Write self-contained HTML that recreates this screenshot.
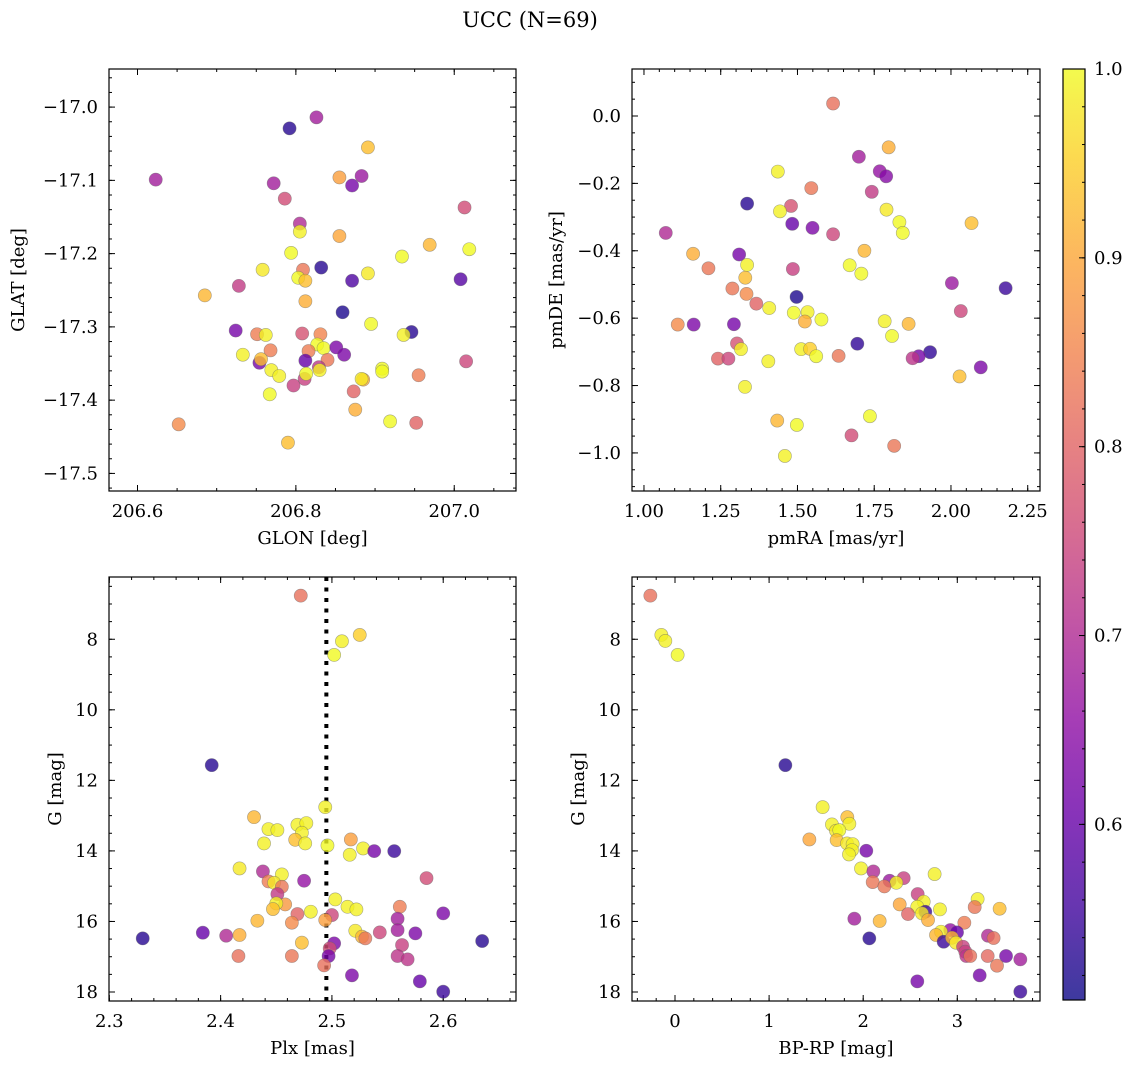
<!DOCTYPE html>
<html><head><meta charset="utf-8"><style>
html,body{margin:0;padding:0;background:#fff;}
svg{display:block;font-family:"DejaVu Serif","Liberation Serif",serif;}
</style></head><body>
<svg id="fig" width="1136" height="1068" viewBox="0 0 1136 1068" xmlns="http://www.w3.org/2000/svg">
<text x="530" y="27" font-size="21" text-anchor="middle">UCC (N=69)</text>
</svg>
<script>
// ---- Panel 1: GLON vs GLAT ----
const glon = [206.623,206.792,206.826,206.891,206.855,206.871,206.883,206.772,206.786,207.013,206.805,206.805,206.855,206.969,207.019,206.794,206.934,206.758,206.809,206.832,206.803,206.812,206.871,206.891,207.008,206.728,206.685,206.812,206.859,206.895,206.724,206.751,206.762,206.808,206.831,206.946,206.936,206.827,206.835,206.851,206.861,206.768,206.816,206.733,206.754,206.756,206.812,206.840,206.829,206.830,206.769,206.779,206.811,206.813,206.909,206.909,206.885,206.883,206.955,207.015,206.797,206.873,206.767,206.875,206.919,206.952,206.652,206.790];
const glat = [-17.099,-17.029,-17.014,-17.055,-17.096,-17.107,-17.094,-17.104,-17.125,-17.137,-17.159,-17.170,-17.176,-17.188,-17.194,-17.199,-17.204,-17.222,-17.222,-17.219,-17.233,-17.237,-17.237,-17.227,-17.235,-17.244,-17.257,-17.265,-17.280,-17.296,-17.305,-17.310,-17.311,-17.309,-17.310,-17.307,-17.311,-17.324,-17.329,-17.328,-17.338,-17.332,-17.333,-17.338,-17.349,-17.344,-17.346,-17.345,-17.355,-17.359,-17.359,-17.367,-17.371,-17.364,-17.357,-17.361,-17.372,-17.371,-17.366,-17.347,-17.380,-17.388,-17.392,-17.413,-17.429,-17.431,-17.433,-17.458];
const prob1 = [0.68,0.53,0.68,0.93,0.89,0.62,0.67,0.68,0.76,0.76,0.70,0.99,0.90,0.92,1.0,1.0,1.0,0.98,0.83,0.53,1.0,0.93,0.57,0.98,0.58,0.73,0.92,0.91,0.52,1.0,0.62,0.84,0.99,0.77,0.85,0.53,0.99,1.0,1.0,0.63,0.63,0.84,0.84,0.99,0.62,0.93,0.60,0.83,0.72,0.99,0.99,0.99,0.74,1.0,1.0,1.0,0.91,0.98,0.84,0.75,0.74,0.80,1.0,0.91,1.0,0.80,0.86,0.93];
// ---- Panel 2: pmRA vs pmDE ----
const pmra = [1.616,1.797,1.700,1.768,1.789,1.436,1.545,1.742,1.336,1.479,1.443,1.790,1.832,2.067,1.483,1.549,1.071,1.843,1.616,1.718,1.160,1.310,1.670,1.336,1.210,1.485,1.708,1.330,1.288,1.334,2.003,2.178,1.497,1.366,1.408,2.032,1.488,1.533,1.524,1.578,1.784,1.862,1.110,1.162,1.293,1.808,1.303,1.316,1.695,1.512,1.541,1.561,1.634,1.932,1.895,1.875,1.241,1.275,1.405,2.097,2.028,1.329,1.736,1.434,1.498,1.676,1.815,1.459];
const pmde = [0.037,-0.093,-0.121,-0.164,-0.179,-0.165,-0.214,-0.225,-0.260,-0.267,-0.283,-0.278,-0.315,-0.318,-0.320,-0.332,-0.347,-0.347,-0.351,-0.400,-0.409,-0.411,-0.443,-0.442,-0.452,-0.454,-0.468,-0.480,-0.512,-0.528,-0.496,-0.511,-0.537,-0.557,-0.570,-0.579,-0.584,-0.582,-0.610,-0.604,-0.609,-0.617,-0.619,-0.619,-0.618,-0.653,-0.675,-0.692,-0.676,-0.692,-0.691,-0.713,-0.712,-0.701,-0.713,-0.719,-0.720,-0.720,-0.728,-0.746,-0.773,-0.804,-0.891,-0.904,-0.917,-0.948,-0.979,-1.009];
const prob2 = [0.82,0.91,0.68,0.66,0.64,0.99,0.83,0.73,0.53,0.77,0.99,0.98,1.0,0.93,0.60,0.63,0.70,1.0,0.75,0.92,0.91,0.62,1.0,0.99,0.83,0.74,1.0,0.93,0.83,0.86,0.67,0.55,0.52,0.80,0.99,0.75,1.0,0.99,0.91,1.0,0.99,0.92,0.86,0.63,0.62,1.0,0.77,0.99,0.54,0.99,0.95,1.0,0.83,0.54,0.62,0.72,0.80,0.75,0.99,0.63,0.93,0.99,1.0,0.92,1.0,0.76,0.83,0.99];
// ---- Panel 3: Plx vs G ----
const plx = [2.472,2.525,2.509,2.502,2.392,2.494,2.430,2.443,2.451,2.469,2.477,2.473,2.467,2.476,2.439,2.496,2.517,2.516,2.528,2.538,2.556,2.417,2.438,2.455,2.475,2.585,2.443,2.448,2.455,2.451,2.503,2.514,2.522,2.561,2.600,2.458,2.450,2.447,2.469,2.481,2.500,2.494,2.559,2.433,2.464,2.559,2.575,2.543,2.521,2.527,2.530,2.384,2.405,2.417,2.330,2.635,2.473,2.502,2.563,2.498,2.497,2.559,2.568,2.416,2.464,2.493,2.518,2.579,2.600];
const gmag3 = [6.763,7.877,8.057,8.444,11.569,12.759,13.043,13.382,13.411,13.260,13.212,13.486,13.685,13.788,13.788,13.845,13.675,14.110,13.930,14.006,14.006,14.497,14.582,14.667,14.846,14.771,14.865,14.903,15.016,15.224,15.375,15.583,15.658,15.583,15.771,15.517,15.488,15.649,15.790,15.724,15.819,15.960,15.922,15.979,16.036,16.244,16.338,16.310,16.263,16.432,16.480,16.319,16.404,16.385,16.480,16.555,16.602,16.621,16.669,16.763,16.980,16.980,17.075,16.980,16.980,17.245,17.528,17.698,17.991];
const prob3 = [0.82,0.95,0.99,1.0,0.53,0.99,0.92,0.99,0.99,0.99,0.99,0.99,0.93,0.99,0.99,1.0,0.89,0.99,0.99,0.62,0.55,0.98,0.70,0.99,0.66,0.76,0.84,0.98,0.83,0.73,0.99,0.99,0.99,0.84,0.63,0.88,0.99,0.93,0.80,0.99,0.75,0.89,0.68,0.92,0.86,0.68,0.63,0.75,0.98,0.92,0.83,0.60,0.70,0.91,0.53,0.53,0.93,0.63,0.74,0.76,0.62,0.72,0.72,0.82,0.83,0.82,0.63,0.60,0.55];
const plxLine = [2.495];
// ---- Panel 4: BP-RP vs G ----
const bprp = [-0.262,-0.145,-0.103,0.028,1.173,1.569,1.831,1.668,1.853,1.711,1.746,1.428,1.718,1.828,1.888,1.881,2.033,1.849,1.977,2.108,2.759,2.430,2.281,2.352,2.101,2.225,2.579,2.643,3.216,3.185,3.450,2.388,2.575,2.816,2.660,2.476,2.625,2.689,1.906,2.175,3.075,2.926,2.997,2.827,2.774,2.855,2.944,2.986,3.326,3.386,2.065,3.061,3.085,3.096,3.138,3.323,3.518,3.670,3.422,3.238,2.575,3.670];
const gmag4 = [6.763,7.877,8.047,8.444,11.569,12.759,13.043,13.250,13.231,13.430,13.411,13.675,13.694,13.788,13.807,13.977,13.996,14.100,14.497,14.582,14.657,14.771,14.846,14.903,14.884,15.007,15.224,15.441,15.365,15.592,15.639,15.517,15.583,15.658,15.724,15.790,15.771,15.960,15.922,15.988,16.036,16.244,16.310,16.291,16.385,16.574,16.461,16.602,16.404,16.470,16.480,16.716,16.857,16.980,16.980,16.980,16.980,17.075,17.254,17.528,17.698,17.991];
const prob4 = [0.82,0.99,0.99,1.0,0.53,0.99,0.93,0.99,0.99,0.98,1.0,0.90,0.93,0.98,0.99,0.99,0.62,0.99,0.99,0.70,0.99,0.74,0.67,0.99,0.83,0.83,0.74,0.99,0.99,0.83,0.93,0.90,0.99,0.99,0.55,0.80,0.98,0.91,0.68,0.92,0.84,0.66,0.60,0.99,0.92,0.55,0.92,0.98,0.70,0.82,0.53,0.74,0.74,0.72,0.82,0.81,0.62,0.68,0.83,0.62,0.62,0.55];
// colorbar
const cbTicks = [0.6,0.7,0.8,0.9,1.0];

const NS = "http://www.w3.org/2000/svg";
const svg = document.getElementById('fig');
const VMIN = 0.507, VMAX = 1.0;
const plasma = [[13,8,135],[65,4,157],[106,0,168],[143,13,164],[177,42,144],[204,71,120],[225,100,98],[242,132,75],[252,166,54],[252,206,37],[240,249,33]];
function cmap(v){
  let t = (v - VMIN) / (VMAX - VMIN); t = Math.max(0, Math.min(1, t));
  const f = t * 10, i = Math.min(9, Math.floor(f)), u = f - i;
  const a = plasma[i], b = plasma[i+1];
  return 'rgb(' + [0,1,2].map(k => Math.round(a[k] + (b[k]-a[k])*u)).join(',') + ')';
}
function el(tag, attrs, parent){
  const e = document.createElementNS(NS, tag);
  for (const k in attrs) e.setAttribute(k, attrs[k]);
  (parent || svg).appendChild(e);
  return e;
}
function fmt(v, d){ let s = v.toFixed(d); if (Number(s) === 0) s = s.replace('-', ''); return s.replace('-', '\u2212'); }

function panel(cfg){
  const g = el('g', {});
  
  
  const {x0,x1,y0,y1,xd,yd} = cfg;
  const sx = v => x0 + (v - xd[0]) / (xd[1] - xd[0]) * (x1 - x0);
  const sy = v => cfg.yinv ? y0 + (v - yd[0]) / (yd[1] - yd[0]) * (y1 - y0)
                           : y1 - (v - yd[0]) / (yd[1] - yd[0]) * (y1 - y0);
  const tg = el('g', {stroke:'#000','stroke-width':1}, g);
  function ticksAlong(lo, hi, step, len, isX, labels, dec){
    const start = Math.ceil((lo - 1e-9) / step) * step;
    for (let v = start; v <= hi + 1e-9; v += step){
      if (isX){
        const x = sx(v);
        el('line', {x1:x,y1:y1,x2:x,y2:y1-len}, tg);
        el('line', {x1:x,y1:y0,x2:x,y2:y0+len}, tg);
        if (labels){
          const t = el('text', {x:x,y:y1+26,'font-size':18,'text-anchor':'middle',stroke:'none',fill:'#000'}, g);
          t.textContent = fmt(v, dec);
          
          
        }
      } else {
        const y = sy(v);
        el('line', {x1:x0,y1:y,x2:x0+len,y2:y}, tg);
        el('line', {x1:x1,y1:y,x2:x1-len,y2:y}, tg);
        if (labels){
          const t = el('text', {x:x0-11,y:y+6,'font-size':18,'text-anchor':'end',stroke:'none',fill:'#000'}, g);
          t.textContent = fmt(v, dec);
          
          
        }
      }
    }
  }
  ticksAlong(xd[0], xd[1], cfg.xminor, 3, true, false);
  ticksAlong(xd[0], xd[1], cfg.xmajor, 6, true, true, cfg.xdec);
  const ylo = Math.min(yd[0], yd[1]), yhi = Math.max(yd[0], yd[1]);
  ticksAlong(ylo, yhi, cfg.yminor, 3, false, false);
  ticksAlong(ylo, yhi, cfg.ymajor, 6, false, true, cfg.ydec);
  const cid = 'clip-' + cfg.name;
  const cp = el('clipPath', {id: cid}, g);
  el('rect', {x:x0,y:y0,width:x1-x0,height:y1-y0}, cp);
  const pg = el('g', {'clip-path':'url(#' + cid + ')'}, g);
  if (cfg.vline){
    cfg.vline.forEach(v => {
      const l = el('line', {x1:sx(v),y1:y0,x2:sx(v),y2:y1,stroke:'#000','stroke-width':4,'stroke-dasharray':'4 6.5'}, pg);
      
      
    });
  }
  cfg.xs.forEach((xv, i) => {
    const c = el('circle', {cx:sx(xv), cy:sy(cfg.ys[i]), r:6.6, fill:cmap(cfg.cs[i]), 'fill-opacity':0.8, stroke:'#666', 'stroke-opacity':0.55, 'stroke-width':0.6}, pg);
    
    
  });
  const fr = el('rect', {x:x0,y:y0,width:x1-x0,height:y1-y0,fill:'none',stroke:'#000','stroke-width':1.2}, g);
  
  
  const xl = el('text', {x:(x0+x1)/2, y:y1+53, 'font-size':18, 'text-anchor':'middle'}, g);
  xl.textContent = cfg.xlabel;
  
  
  const yl = el('text', {x:0, y:0, 'font-size':18, 'text-anchor':'middle', transform:'translate(' + cfg.ylx + ',' + ((y0+y1)/2) + ') rotate(-90)'}, g);
  yl.textContent = cfg.ylabel;
  
  
}

panel({name:'glon-glat-panel', x0:109,x1:516,y0:69,y1:491, xd:[206.564,207.078], yd:[-17.524,-16.948],
  xmajor:0.2, xminor:0.05, xdec:1, ymajor:0.1, yminor:0.02, ydec:1,
  xs:glon, ys:glat, cs:prob1, xlabel:'GLON [deg]', ylabel:'GLAT [deg]', ylx:24});
panel({name:'pm-panel', x0:632,x1:1040,y0:69,y1:491, xd:[0.961,2.290], yd:[-1.113,0.1395],
  xmajor:0.25, xminor:0.05, xdec:2, ymajor:0.2, yminor:0.05, ydec:1,
  xs:pmra, ys:pmde, cs:prob2, xlabel:'pmRA [mas/yr]', ylabel:'pmDE [mas/yr]', ylx:562});
panel({name:'plx-g-panel', x0:109,x1:516,y0:577,y1:1001, xd:[2.2997,2.6654], yd:[6.235,18.255], yinv:true,
  xmajor:0.1, xminor:0.02, xdec:1, ymajor:2, yminor:0.5, ydec:0,
  xs:plx, ys:gmag3, cs:prob3, xlabel:'Plx [mas]', ylabel:'G [mag]', ylx:61, vline:plxLine});
panel({name:'cmd-panel', x0:632,x1:1040,y0:577,y1:1001, xd:[-0.457,3.879], yd:[6.235,18.255], yinv:true,
  xmajor:1, xminor:0.2, xdec:0, ymajor:2, yminor:0.5, ydec:0,
  xs:bprp, ys:gmag4, cs:prob4, xlabel:'BP-RP [mag]', ylabel:'G [mag]', ylx:584});

(function(){
  const cx0 = 1063, cx1 = 1085, cy0 = 69, cy1 = 1000;
  const g = el('g', {});
  
  
  const defs = el('defs', {}, g);
  const lg = el('linearGradient', {id:'cbgrad', x1:0, y1:1, x2:0, y2:0}, defs);
  for (let i = 0; i <= 20; i++){
    const v = VMIN + (VMAX - VMIN) * i / 20;
    el('stop', {offset:(i/20), 'stop-color':cmap(v)}, lg);
  }
  el('rect', {x:cx0,y:cy0,width:cx1-cx0,height:cy1-cy0,fill:'url(#cbgrad)','fill-opacity':0.8}, g);
  const sy = v => cy1 - (v - VMIN) / (VMAX - VMIN) * (cy1 - cy0);
  for (let v = 0.52; v <= 1.0001; v += 0.02){
    el('line', {x1:cx1,y1:sy(v),x2:cx1-3,y2:sy(v),stroke:'#000','stroke-width':1}, g);
  }
  cbTicks.forEach(v => {
    el('line', {x1:cx1,y1:sy(v),x2:cx1-6,y2:sy(v),stroke:'#000','stroke-width':1}, g);
    const t = el('text', {x:cx1+9, y:sy(v)+6, 'font-size':18}, g);
    t.textContent = v.toFixed(1);
    
    
  });
  el('rect', {x:cx0,y:cy0,width:cx1-cx0,height:cy1-cy0,fill:'none',stroke:'#000','stroke-width':1.2}, g);
})();
</script>
</body></html>
